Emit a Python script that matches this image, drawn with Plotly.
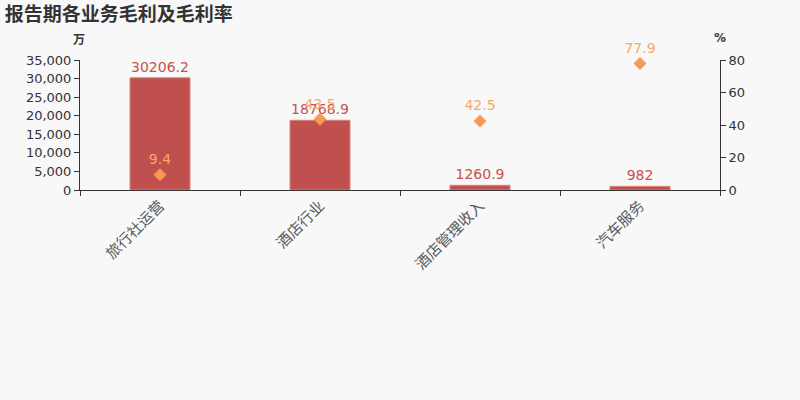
import plotly.graph_objects as go

categories = ['旅行社运营', '酒店行业', '酒店管理收入', '汽车服务']
gross_profit = [30206.2, 18768.9, 1260.9, 982]
gross_margin = [9.4, 43.5, 42.5, 77.9]

font_family = "DejaVu Sans, Noto Sans CJK SC, sans-serif"
cjk_font = "Noto Sans CJK SC, sans-serif"

fig = go.Figure()

fig.add_trace(go.Bar(
    x=categories,
    y=gross_profit,
    width=0.375,
    marker=dict(color='#c0504d', line=dict(color='#d98580', width=1)),
    text=[f"{v:g}" for v in gross_profit],
    textposition='outside',
    textfont=dict(color='#c9504d', size=14),
    cliponaxis=False,
    yaxis='y',
))

fig.add_trace(go.Scatter(
    x=categories,
    y=gross_margin,
    mode='markers+text',
    marker=dict(symbol='diamond', color='#f59a56', size=10),
    text=[f"{v:g}" for v in gross_margin],
    textposition='top center',
    textfont=dict(color='#f6a96b', size=14),
    cliponaxis=False,
    yaxis='y2',
))

fig.update_layout(
    width=800,
    height=400,
    paper_bgcolor='#f8f8f8',
    plot_bgcolor='#f8f8f8',
    showlegend=False,
    margin=dict(l=80, r=80, t=60, b=210),
    font=dict(family=font_family, size=13, color='#333'),
    title=dict(text='<b>报告期各业务毛利及毛利率</b>', x=0.006, y=0.963,
               xanchor='left', yanchor='middle',
               font=dict(family=cjk_font, size=19, color='#333')),
    xaxis=dict(
        showline=True, linecolor='#333', linewidth=1,
        ticks='outside', tickson='boundaries', ticklen=5, tickcolor='#333',
        tickangle=-45, tickfont=dict(family=cjk_font, size=15, color='#5a5a5a'),
        showgrid=False,
    ),
    yaxis=dict(
        range=[0, 35000], dtick=5000, tickformat=',',
        showline=True, linecolor='#333', linewidth=1,
        ticks='outside', ticklen=5, tickcolor='#333',
        showgrid=False, zeroline=False,
        tickfont=dict(size=13, color='#333'),
    ),
    yaxis2=dict(
        range=[0, 80], dtick=20, overlaying='y', side='right',
        showline=True, linecolor='#333', linewidth=1,
        ticks='outside', ticklen=5, tickcolor='#333',
        showgrid=False, zeroline=False,
        tickfont=dict(size=13, color='#333'),
    ),
    annotations=[
        dict(text='<b>万</b>', xref='paper', yref='paper', x=-0.002, y=1.169,
             xanchor='center', yanchor='middle', showarrow=False,
             font=dict(family=cjk_font, size=12, color='#333')),
        dict(text='<b>%</b>', xref='paper', yref='paper', x=1.0, y=1.169,
             xanchor='center', yanchor='middle', showarrow=False,
             font=dict(size=12, color='#333')),
    ],
)

fig.write_html(
    "out.html",
    config={'displayModeBar': False},
    post_script="document.body.style.margin='0';document.body.style.background='#f8f8f8';",
)
